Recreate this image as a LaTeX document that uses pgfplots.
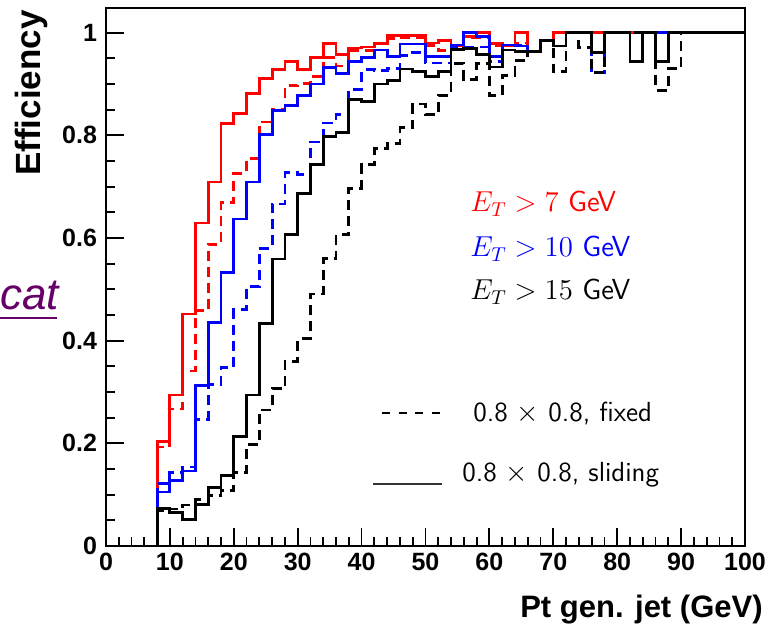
\documentclass[border=0pt]{standalone}
\usepackage{fontspec}
\usepackage{pgfplots}
\usepackage{pgfplotstable}
\pgfplotsset{compat=1.18}
\newfontfamily\hv{Liberation Sans}
\definecolor{catpurple}{RGB}{102,0,102}

% efficiency per 2 GeV bin (value at bin lower edge), first row starts the step at 0
\pgfplotstableread{
x   rs    rd    bs    bd    ks    kd
8   0     0     0     0     0     0
8   0.203 0.193 0.105 0.122 0.073 0.068
10  0.294 0.267 0.127 0.143 0.066 0.072
12  0.452 0.341 0.146 0.154 0.051 0.080
14  0.629 0.458 0.312 0.247 0.081 0.090
16  0.709 0.588 0.436 0.314 0.114 0.098
18  0.823 0.669 0.532 0.348 0.138 0.108
20  0.842 0.726 0.637 0.460 0.214 0.143
22  0.881 0.755 0.709 0.505 0.294 0.197
24  0.911 0.826 0.802 0.580 0.434 0.265
26  0.928 0.850 0.848 0.666 0.559 0.307
28  0.944 0.897 0.858 0.727 0.606 0.360
30  0.928 0.901 0.878 0.724 0.686 0.404
32  0.952 0.914 0.900 0.787 0.743 0.491
34  0.979 0.951 0.932 0.824 0.798 0.560
36  0.958 0.935 0.920 0.840 0.805 0.606
38  0.970 0.965 0.944 0.890 0.870 0.697
40  0.972 0.965 0.952 0.928 0.866 0.743
42  0.979 0.978 0.966 0.927 0.900 0.774
44  0.994 0.989 0.954 0.930 0.906 0.784
46  0.995 0.990 0.978 0.956 0.929 0.815
48  0.995 0.990 0.978 0.962 0.924 0.861
50  0.980 0.975 0.954 0.941 0.914 0.841
52  0.985 0.965 0.954 0.941 0.924 0.878
54  0.975 0.975 0.976 0.972 0.967 0.940
56  0.992 0.990 1.000 0.972 0.969 0.909
58  1.000 0.990 0.992 0.972 0.958 0.940
60  0.979 0.975 0.954 0.943 0.933 0.878
62  0.975 0.975 0.976 0.976 0.966 0.917
64  1.000 0.980 0.974 0.975 0.963 0.946
66  0.963 0.963 0.963 0.963 0.963 0.963
68  0.984 0.984 0.984 0.984 0.984 0.984
70  1.000 0.974 0.974 0.974 0.974 0.924
72  1.000 1.000 1.000 1.000 1.000 1.000
74  1.000 1.000 1.000 1.000 1.000 0.971
76  1.000 0.961 0.961 0.922 0.961 0.922
78  1.000 1.000 1.000 1.000 1.000 1.000
80  1.000 1.000 1.000 1.000 1.000 1.000
82  1.000 1.000 0.943 0.943 0.943 1.000
84  1.000 1.000 1.000 1.000 1.000 1.000
86  0.943 0.943 1.000 1.000 0.943 0.888
88  1.000 1.000 1.000 1.000 1.000 0.930
90  1.000 1.000 1.000 1.000 1.000 1.000
92  1.000 1.000 1.000 1.000 1.000 1.000
94  1.000 1.000 1.000 1.000 1.000 1.000
96  1.000 1.000 1.000 1.000 1.000 1.000
98  1.000 1.000 1.000 1.000 1.000 1.000
100 1.000 1.000 1.000 1.000 1.000 1.000
}\eff

\begin{document}
\begin{tikzpicture}
\useasboundingbox (-53pt,-42pt) rectangle (331pt,273pt);
\begin{axis}[
    at={(0,0)}, anchor=south west,
    scale only axis,
    width=319.5pt, height=269pt,
    xmin=0, xmax=100, ymin=0, ymax=1.048,
    xtick={0,10,...,100},
    ytick={0,0.2,0.4,0.6,0.8,1},
    yticklabels={0,0.2,0.4,0.6,0.8,1},
    minor x tick num=4, minor y tick num=3,
    xtick pos=bottom, ytick pos=left,
    tick align=inside,
    major tick length=9pt, minor tick length=4.5pt,
    axis line style={line width=1.2pt},
    every tick/.style={black, line width=0.9pt},
    ticklabel style={font=\hv\bfseries\fontsize{12.5}{14}\selectfont},
    yticklabel style={xshift=-1pt},
    /pgf/number format/assume math mode=true,
    every axis plot/.append style={const plot mark left, line width=1.4pt},
    hdash/.style={dash pattern=on 5pt off 3pt},
  ]
  \addplot[red, hdash] table[x=x, y=rd] {\eff};
  \addplot[red] table[x=x, y=rs] {\eff};
  \addplot[blue, hdash] table[x=x, y=bd] {\eff};
  \addplot[blue] table[x=x, y=bs] {\eff};
  \addplot[black, hdash] table[x=x, y=kd] {\eff};
  \addplot[black] table[x=x, y=ks] {\eff};
\end{axis}

% axis titles
\node[rotate=90, anchor=east, inner sep=0pt, font=\hv\bfseries\fontsize{17.5}{19}\selectfont]
  at (-37.5pt,268pt) {Efficiency};
\node[anchor=base east, inner sep=0pt, font=\hv\bfseries\fontsize{15.5}{17}\selectfont]
  at (328.5pt,-36pt) {Pt gen. jet (GeV)};

% legend
\begin{scope}[every node/.style={anchor=base west, inner sep=0pt}]
  \node[red, font=\fontsize{14.5}{17}\selectfont] at (182pt,167pt) {$E_T > 7$ \textsf{GeV}};
  \node[blue, font=\fontsize{14.5}{17}\selectfont] at (182pt,144.5pt) {$E_T > 10$ \textsf{GeV}};
  \node[black, font=\fontsize{14.5}{17}\selectfont] at (182pt,123pt) {$E_T > 15$ \textsf{GeV}};
  \node[font=\sffamily\fontsize{13.8}{16}\selectfont] at (183.5pt,62pt) {0.8 $\times$ 0.8, fixed};
  \node[font=\sffamily\fontsize{13.8}{16}\selectfont] at (178pt,32pt) {0.8 $\times$ 0.8, sliding};
\end{scope}
\draw[line width=0.7pt, dash pattern=on 4pt off 4.3pt] (138pt,66.5pt) -- (168pt,66.5pt);
\draw[line width=0.6pt, black!80] (133.5pt,31pt) -- (168pt,31pt);

% stray slide text on the left
\node[anchor=base west, inner sep=0pt, catpurple, font=\hv\itshape\fontsize{22}{24}\selectfont]
  at (-53pt,118pt) {cat};
\draw[catpurple, line width=1.3pt] (-53pt,114pt) -- (-24.5pt,114pt);
\end{tikzpicture}
\end{document}
